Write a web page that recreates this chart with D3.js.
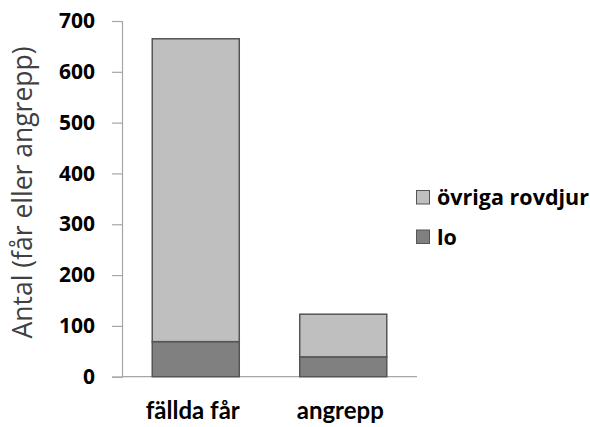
<!DOCTYPE html>
<html><head><meta charset="utf-8">
<script src="https://cdn.jsdelivr.net/npm/d3@7"></script>
<style>body{margin:0;background:#fff}svg{display:block}</style>
</head><body>
<svg id="c" width="590" height="427"></svg>
<script>
const categories = ["fällda får", "angrepp"];
const loValues = [69, 39];
const ovrigaValues = [596, 84];
const seriesNames = ["lo", "övriga rovdjur"];
const yTicks = [0, 100, 200, 300, 400, 500, 600, 700];

const svg = d3.select("#c");
const m = {left: 122, right: 173, top: 21, bottom: 50};
const W = 590, H = 427;
const x = d3.scaleBand().domain(categories).range([m.left, W - m.right]).paddingInner(0.41).paddingOuter(0.205);
const y = d3.scaleLinear().domain([0, 700]).range([376.7, 21]);

const data = categories.map((c, i) => ({cat: c, lo: loValues[i], ovriga: ovrigaValues[i]}));
const stack = d3.stack().keys(["lo", "ovriga"])(data);
const colors = {lo: "#808080", ovriga: "#bfbfbf"};

const font = "'Open Sans', sans-serif";

// axes
const yAxis = svg.append("g").attr("transform", `translate(${m.left},0)`)
  .call(d3.axisLeft(y).tickValues(yTicks).tickSize(10).tickPadding(17));
yAxis.select(".domain").attr("stroke", "#a6a6a6").attr("stroke-width", 1.2);
yAxis.selectAll(".tick line").attr("stroke", "#a6a6a6").attr("stroke-width", 1.2);
yAxis.selectAll(".tick text").attr("font-family", font).attr("font-weight", "bold")
  .attr("font-size", 21).attr("fill", "#000");

svg.append("line").attr("x1", m.left).attr("x2", W - m.right)
  .attr("y1", y(0)).attr("y2", y(0)).attr("stroke", "#a6a6a6").attr("stroke-width", 1.2);

// bars
svg.append("g").selectAll("g").data(stack).join("g")
  .attr("fill", d => colors[d.key])
  .selectAll("rect").data(d => d).join("rect")
  .attr("x", d => x(d.data.cat))
  .attr("width", x.bandwidth())
  .attr("y", d => y(d[1]))
  .attr("height", d => y(d[0]) - y(d[1]))
  .attr("stroke", "#555").attr("stroke-width", 1.5);

// x labels
const xAxis = svg.append("g").attr("transform", `translate(0,${y(0)})`)
  .call(d3.axisBottom(x).tickSize(0).tickPadding(25));
xAxis.select(".domain").remove();
xAxis.selectAll(".tick text").attr("font-family", "Lato, sans-serif").attr("font-weight", "bold")
  .attr("font-size", 24).attr("fill", "#000").attr("dx", -3);

// y title
svg.append("text").attr("transform", `translate(32,${(40+345)/2}) rotate(-90)`)
  .attr("text-anchor", "middle").attr("font-family", font).attr("font-size", 26.5)
  .attr("fill", "#404040").text("Antal (får eller angrepp)");

// legend
const legendItems = [{name: seriesNames[1], key: "ovriga"}, {name: seriesNames[0], key: "lo"}];
const lg = svg.append("g").selectAll("g").data(legendItems).join("g")
  .attr("transform", (d, i) => `translate(416.5,${190.5 + i * 39.5})`);
lg.append("rect").attr("width", 13).attr("height", 13.5)
  .attr("fill", d => colors[d.key]).attr("stroke", "#555").attr("stroke-width", 1);
lg.append("text").attr("x", 20.5).attr("y", 14.5).attr("font-family", font)
  .attr("font-weight", "bold").attr("font-size", 21.5).attr("fill", "#000").text(d => d.name);
</script>
</body></html>
